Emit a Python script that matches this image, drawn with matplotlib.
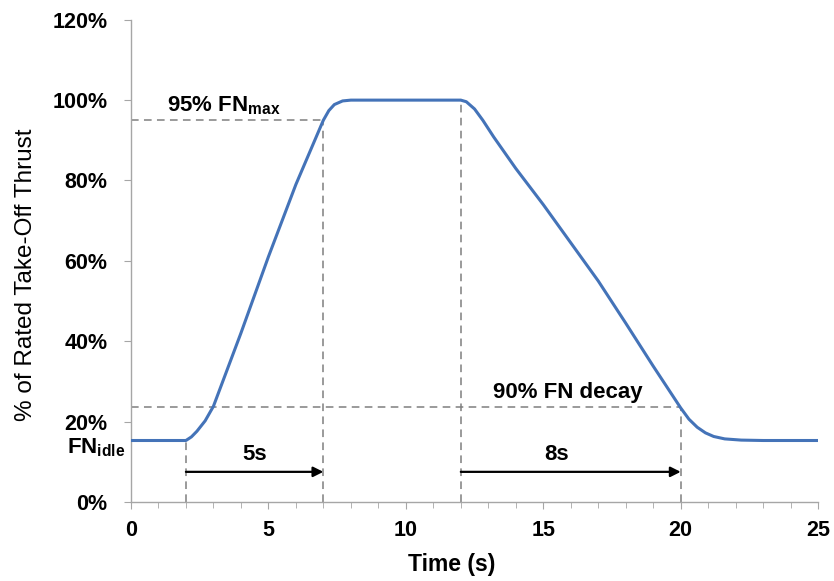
"""
Engine thrust response: spool-up and decay profile
"""
import matplotlib.pyplot as plt
from matplotlib.ticker import MultipleLocator, PercentFormatter

plt.rcParams.update({
    'font.family': ['Liberation Sans', 'DejaVu Sans'],
    'mathtext.fontset': 'custom',
    'mathtext.bf': 'Liberation Sans:bold',
    'mathtext.rm': 'Liberation Sans',
})

# thrust curve (time in s, thrust in % of rated take-off thrust)
time_s = [0.0, 2.0, 2.2, 2.4, 2.7, 3.0, 4.0, 5.0, 6.0, 7.0, 7.2, 7.4, 7.7, 8.0,
          12.0, 12.2, 12.5, 12.8, 13.2, 14.0, 15.0, 16.0, 17.0, 18.0, 19.0, 20.0,
          20.3, 20.6, 20.9, 21.2, 21.6, 22.2, 23.0, 25.0]
thrust_pct = [15.3, 15.3, 16.2, 17.6, 20.2, 23.8, 42.0, 61.0, 79.0, 95.0, 97.4, 98.9, 99.8, 100.0,
              100.0, 99.6, 97.8, 95.0, 90.8, 83.0, 74.0, 64.5, 55.0, 44.5, 33.8, 23.4,
              20.6, 18.6, 17.2, 16.3, 15.7, 15.4, 15.3, 15.3]

# reference markers
idle_pct = 15.3
fn95_pct = 95.0
decay90_pct = 23.6
t_start, t_95, t_decay_start, t_decay_end = 2.0, 7.0, 12.0, 20.0
arrow_y = 7.5

fig = plt.figure(figsize=(8.34, 5.81), dpi=100)
ax = fig.add_axes([0.157, 0.136, 0.824, 0.83])

ax.plot(time_s, thrust_pct, color='#4473B8', linewidth=2.2, zorder=3,
        solid_capstyle='round', solid_joinstyle='round')

dash = dict(color='#7F7F7F', linestyle=(0, (5, 3.5)), linewidth=1.1, zorder=2)
ax.plot([0, t_95], [fn95_pct, fn95_pct], **dash)
ax.plot([t_95, t_95], [0, fn95_pct], **dash)
ax.plot([t_decay_start, t_decay_start], [0, 100], **dash)
ax.plot([0, t_decay_end], [decay90_pct, decay90_pct], **dash)
ax.plot([t_start, t_start], [0, idle_pct], **dash)
ax.plot([t_decay_end, t_decay_end], [0, decay90_pct], **dash)

arrow = dict(arrowstyle='-|>', color='black', lw=1.6, mutation_scale=15,
             shrinkA=0, shrinkB=0)
ax.annotate('', xy=(t_95, arrow_y), xytext=(t_start, arrow_y), arrowprops=arrow)
ax.annotate('', xy=(t_decay_end, arrow_y), xytext=(t_decay_start, arrow_y), arrowprops=arrow)

txt = dict(fontsize=16, fontweight='bold', ha='center', va='baseline')
ax.text(4.5, 10.5, '5s', **txt)
ax.text(15.5, 10.5, '8s', **txt)
ax.text(3.37, 97.2, r'95% FN$_{\mathbf{max}}$', **txt)
ax.text(15.9, 25.9, '90% FN decay', **txt)
ax.text(-1.27, 12.2, r'FN$_{\mathbf{idle}}$', clip_on=False, **txt)

ax.set_xlim(0, 25)
ax.set_ylim(0, 120)
ax.xaxis.set_major_locator(MultipleLocator(5))
ax.xaxis.set_minor_locator(MultipleLocator(1))
ax.yaxis.set_major_locator(MultipleLocator(20))
ax.yaxis.set_major_formatter(PercentFormatter(decimals=0))

for spine in ['top', 'right']:
    ax.spines[spine].set_visible(False)
for spine in ['left', 'bottom']:
    ax.spines[spine].set_color('#A6A6A6')
    ax.spines[spine].set_linewidth(1.0)

ax.tick_params(axis='both', which='both', direction='out', color='#A6A6A6')
ax.tick_params(axis='both', which='major', length=5, labelsize=15.5)
ax.tick_params(axis='x', which='minor', length=4)
ax.tick_params(axis='x', pad=8)
ax.tick_params(axis='y', pad=12)
for lbl in ax.get_xticklabels() + ax.get_yticklabels():
    lbl.set_fontweight('bold')

ax.set_xlabel('Time (s)', fontsize=16.5, fontweight='bold')
ax.set_ylabel('% of Rated Take-Off Thrust', fontsize=17.5)
ax.xaxis.set_label_coords(0.467, -0.105)
ax.yaxis.set_label_coords(-0.153, 0.471)
ax.yaxis.label.set_va('center')

fig.savefig('out.png', dpi=100)
